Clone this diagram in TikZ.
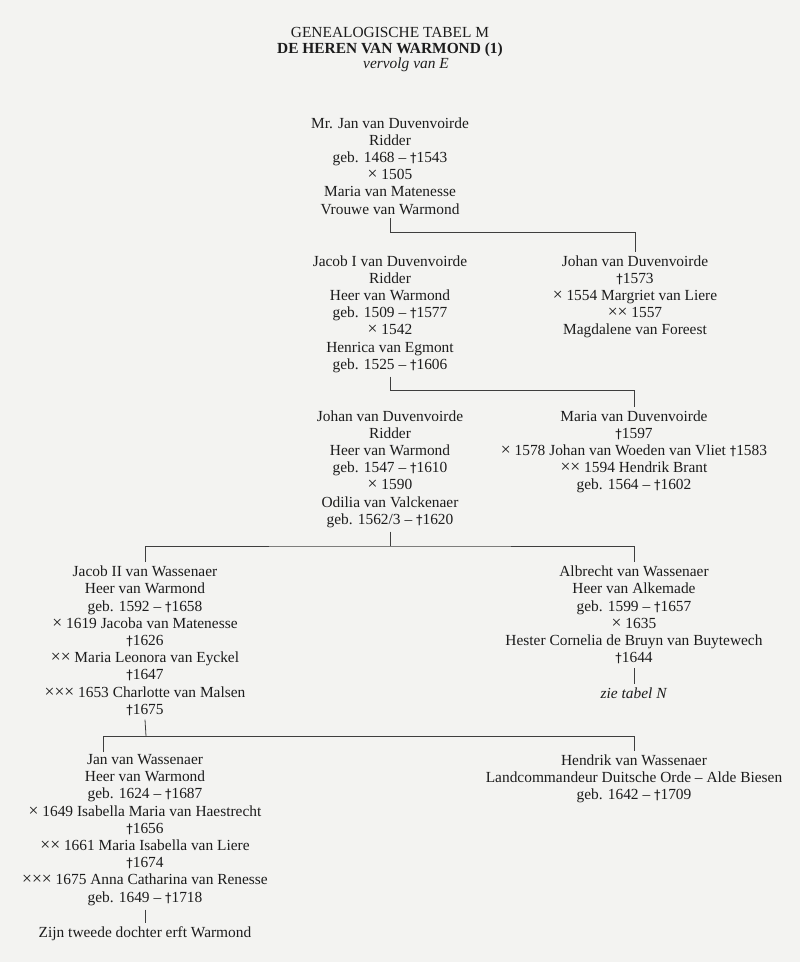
\documentclass[tikz,border=0pt]{standalone}
\usepackage{fontspec}
\setmainfont{Liberation Serif}
\newfontfamily\kruisfont{DejaVu Sans}
\definecolor{papier}{RGB}{243,243,241}
\definecolor{inkt}{RGB}{28,28,28}
\tikzset{persoon/.style={align=center, inner sep=0pt, outer sep=4pt, anchor=north, text=inkt, font=\fontsize{15.4}{17.2}\selectfont}}
\tikzset{kop/.style={persoon, outer sep=0pt}}
\tikzset{tak/.style={draw=inkt!85, line width=0.8pt}}
\newcommand{\huw}{{\fontsize{17.5}{12}\selectfont ×}}
\newcommand{\ovl}{{\kruisfont\fontsize{13}{12}\selectfont †}}

\begin{document}
\begin{tikzpicture}[x=1pt,y=-1pt]
		\useasboundingbox (0,0) rectangle (800,962);
		\fill[papier] (0,0) rectangle (800,962);

		\node[kop] (kop1) at (390,27.5){GENEALOGISCHE TABEL M};
		\node[kop, font=\bfseries\fontsize{15.4}{17.2}\selectfont] (kop2) at (390,43){DE HEREN VAN WARMOND (1)};
		\node[kop, font=\itshape\fontsize{15.4}{17.2}\selectfont] (kop3) at (406,57.5){vervolg van E};

		\node[persoon] (jan) at (390,113.5){Mr. Jan van Duvenvoirde\\Ridder\\geb. 1468 -- \ovl1543\\\huw{} 1505\\Maria van Matenesse\\Vrouwe van Warmond};

		\node[persoon] (jacob1) at (390,251.5){Jacob I van Duvenvoirde\\Ridder\\Heer van Warmond\\geb. 1509 -- \ovl1577\\\huw{} 1542\\Henrica van Egmont\\geb. 1525 -- \ovl1606};
		\node[persoon] (johan1) at (635,251.5){Johan van Duvenvoirde\\\ovl1573\\\huw{} 1554 Margriet van Liere\\\huw\huw{} 1557\\Magdalene van Foreest};

		\node[persoon] (johan2) at (390,406.5){Johan van Duvenvoirde\\Ridder\\Heer van Warmond\\geb. 1547 -- \ovl1610\\\huw{} 1590\\Odilia van Valckenaer\\geb. 1562/3 -- \ovl1620};
		\node[persoon] (maria) at (634,406.5){Maria van Duvenvoirde\\\ovl1597\\\huw{} 1578 Johan van Woeden van Vliet \ovl1583\\\huw\huw{} 1594 Hendrik Brant\\geb. 1564 -- \ovl1602};

		\node[persoon] (jacob2) at (145,562){Jacob II van Wassenaer\\Heer van Warmond\\geb. 1592 -- \ovl1658\\\huw{} 1619 Jacoba van Matenesse\\\ovl1626\\\huw\huw{} Maria Leonora van Eyckel\\\ovl1647\\\huw\huw\huw{} 1653 Charlotte van Malsen\\\ovl1675};
		\node[persoon] (albrecht) at (634,562){Albrecht van Wassenaer\\Heer van Alkemade\\geb. 1599 -- \ovl1657\\\huw{} 1635\\Hester Cornelia de Bruyn van Buytewech\\\ovl1644};
		\node[persoon] (tabelN) at (634,683.5){\textit{zie tabel N}};

		\node[persoon] (janw) at (145,750.5){Jan van Wassenaer\\Heer van Warmond\\geb. 1624 -- \ovl1687\\\huw{} 1649 Isabella Maria van Haestrecht\\\ovl1656\\\huw\huw{} 1661 Maria Isabella van Liere\\\ovl1674\\\huw\huw\huw{} 1675 Anna Catharina van Renesse\\geb. 1649 -- \ovl1718};
		\node[persoon] (hendrik) at (634,750.5){Hendrik van Wassenaer\\Landcommandeur Duitsche Orde -- Alde Biesen\\geb. 1642 -- \ovl1709};
		\node[persoon] (dochter) at (145,922.5){Zijn tweede dochter erft Warmond};

		% aftakkingen
		\coordinate (t1) at (390,232);
		\coordinate (t2) at (390,390);
		\coordinate (t3) at (390,546);
		\coordinate (t4) at (146,736);
		\coordinate (d4) at (103,752);

		\draw[tak] (jan.south) -- (t1) -| (johan1.north);
		\draw[tak] (jacob1.south) -- (t2) -| (maria.north);
		\draw[tak] (johan2.south) -- (t3);
		\draw[tak] (jacob2.north) |- (t3) -| (albrecht.north);
		\draw[tak] (jacob2.south) -- (t4);
		\draw[tak] (d4) |- (t4) -| (hendrik.north);
		\draw[tak] (albrecht.south) -- (tabelN.north);
		\draw[tak] (janw.south) -- (dochter.north);
	\end{tikzpicture}
\end{document}
